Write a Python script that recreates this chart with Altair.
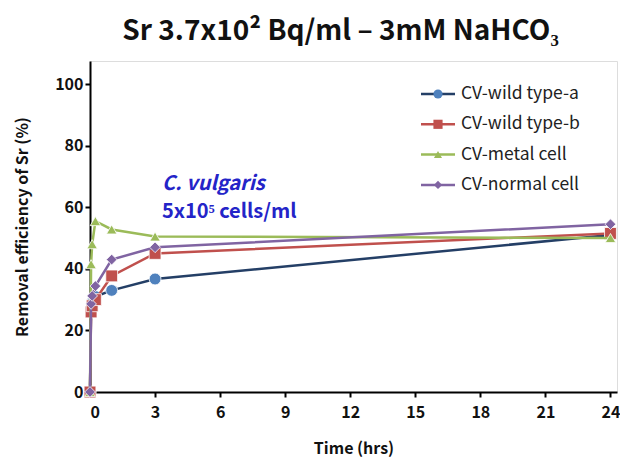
import altair as alt
import pandas as pd

times = [0, 0.05, 0.1, 0.25, 1, 3, 24]
series_names = ["CV-wild type-a", "CV-wild type-b", "CV-metal cell", "CV-normal cell"]
wild_a = [0, 27, 29, 31, 33, 36.7, 51]
wild_b = [0, 26, 28, 30, 37.7, 45, 51.5]
metal = [0, 41.5, 48, 55.5, 52.8, 50.5, 50]
normal = [0, 28.6, 31.2, 34.4, 43, 47, 54.5]
x_ticks = [0, 3, 6, 9, 12, 15, 18, 21, 24]
y_ticks = [0, 20, 40, 60, 80, 100]

values = [wild_a, wild_b, metal, normal]
rows = []
for name, vals in zip(series_names, values):
    for t, v in zip(times, vals):
        rows.append({"series": name, "time": t, "value": v})
df = pd.DataFrame(rows)

line_colors = ["#243F66", "#C0504D", "#9BBB59", "#8064A2"]
marker_colors = ["#4F81BD", "#C0504D", "#9BBB59", "#8064A2"]
shapes = ["circle", "square", "triangle-up", "diamond"]
sizes = [140, 140, 110, 115]

FONT = "Noto Sans CJK KR"
W, H = 527, 331

xs = alt.Scale(domain=[0, 24.3], nice=False)
ys = alt.Scale(domain=[0, 107.5], nice=False)

layers = []
for i, name in enumerate(series_names):
    d = df[df.series == name]
    base = alt.Chart(d)
    ln = base.mark_line(color=line_colors[i], strokeWidth=2.5, clip=False).encode(
        x=alt.X("time:Q", scale=xs,
                axis=alt.Axis(values=x_ticks, title="Time (hrs)", grid=False,
                              domainColor="black", domainWidth=2, tickColor="black",
                              tickSize=5, tickWidth=2, labelFont=FONT, labelFontSize=16,
                              labelFontWeight="bold", labelColor="#111", labelPadding=7,
                              titleFont=FONT, titleFontSize=16, titleFontWeight="bold",
                              titleColor="#111", titlePadding=20)),
        y=alt.Y("value:Q", scale=ys,
                axis=alt.Axis(values=y_ticks, title="Removal efficiency of Sr (%)", grid=False,
                              domainColor="black", domainWidth=2, tickColor="black",
                              tickSize=5, tickWidth=2, labelFont=FONT, labelFontSize=16,
                              labelFontWeight="bold", labelColor="#111", labelPadding=2,
                              titleFont=FONT, titleFontSize=16, titleFontWeight="bold",
                              titleColor="#111", titlePadding=24)),
    )
    pt = base.mark_point(shape=shapes[i], filled=True, size=sizes[i], color=marker_colors[i],
                         opacity=1, stroke="white", strokeWidth=0.8, clip=False).encode(
        x=alt.X("time:Q", scale=xs), y=alt.Y("value:Q", scale=ys))
    layers += [ln, pt]

# manual legend
leg_rows = []
for i, name in enumerate(series_names):
    leg_rows.append({"series": name, "ly": 33 + i * 30.3, "x1": 331, "x2": 365, "xm": 348,
                     "xt": 371})
leg = pd.DataFrame(leg_rows)
for i, name in enumerate(series_names):
    d = leg[leg.series == name]
    b = alt.Chart(d)
    layers.append(b.mark_rule(color=line_colors[i], strokeWidth=2.5).encode(
        x=alt.X("x1:Q", scale=None), x2="x2:Q", y=alt.Y("ly:Q", scale=None)))
    layers.append(b.mark_point(shape=shapes[i], filled=True, size=sizes[i] * 0.6,
                               color=marker_colors[i], opacity=1).encode(
        x=alt.X("xm:Q", scale=None), y=alt.Y("ly:Q", scale=None)))
    layers.append(b.mark_text(align="left", baseline="middle", font=FONT, fontSize=17.5,
                              color="#222").encode(
        x=alt.X("xt:Q", scale=None), y=alt.Y("ly:Q", scale=None), text="series:N"))

ann1 = alt.Chart(pd.DataFrame({"t": ["C. vulgaris"]})).mark_text(
    align="left", baseline="middle", font=FONT, fontSize=20, fontWeight="bold",
    fontStyle="italic", color="#2424C8").encode(
    x=alt.value(72), y=alt.value(123), text="t:N")
ann2 = alt.Chart(pd.DataFrame({"t": ["5x10⁵ cells/ml"]})).mark_text(
    align="left", baseline="middle", font=FONT, fontSize=20, fontWeight="bold",
    color="#2424C8").encode(
    x=alt.value(72), y=alt.value(151), text="t:N")
layers += [ann1, ann2]

chart = alt.layer(*layers).properties(
    width=W, height=H,
    autosize=alt.AutoSizeParams(type="none"),
    title=alt.TitleParams("Sr 3.7x10² Bq/ml – 3mM NaHCO₃", font=FONT, fontSize=28,
                          fontWeight="bold", color="#111", anchor="middle", offset=15, dx=-13),
    padding={"left": 82, "top": 53, "right": 3, "bottom": 70},
).configure_view(stroke=None).configure(background="white")

chart.save("out.html", embed_options={"renderer": "svg", "actions": False})
